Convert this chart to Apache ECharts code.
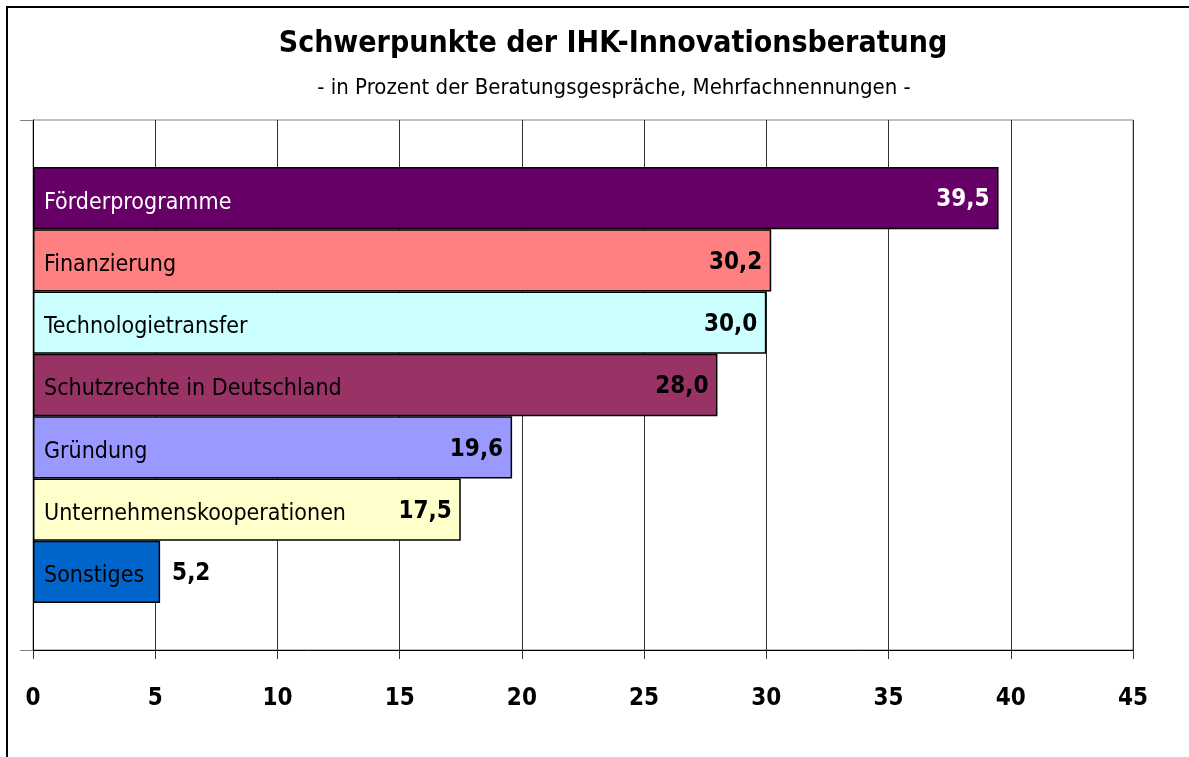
<!DOCTYPE html>
<html><head><meta charset="utf-8">
<script src="https://cdn.jsdelivr.net/npm/echarts@6/dist/echarts.min.js"></script>
<style>html,body{margin:0;padding:0;background:#fff}#c{width:1189px;height:757px}</style>
</head><body><div id="c"></div>
<script>
const categories = ['Förderprogramme','Finanzierung','Technologietransfer','Schutzrechte in Deutschland','Gründung','Unternehmenskooperationen','Sonstiges'];
const values = [39.5, 30.2, 30.0, 28.0, 19.6, 17.5, 5.2];
const xTicks = [0, 5, 10, 15, 20, 25, 30, 35, 40, 45];
const titleText = 'Schwerpunkte der IHK-Innovationsberatung';
const subtitleText = '- in Prozent der Beratungsgespräche, Mehrfachnennungen -';

const barColors = ['#660066','#FF8080','#CCFFFF','#993366','#9999FF','#FFFFCC','#0066CC'];
const textColors = ['#ffffff','#000000','#000000','#000000','#000000','#000000','#000000'];
const FONT = 'DejaVu Sans Condensed';

const chart = echarts.init(document.getElementById('c'), null, {renderer: 'canvas'});
const xMin = xTicks[0], xMax = xTicks[xTicks.length - 1], xStep = xTicks[1] - xTicks[0];

const nameRich = {};
textColors.forEach((c, i) => {
  nameRich['n' + i] = {color: c, fontFamily: FONT, fontSize: 23, padding: [9, 0, 0, 0]};
});

chart.setOption({
  animation: false,
  backgroundColor: '#ffffff',
  textStyle: {fontFamily: FONT},
  title: [
    {text: titleText, left: 608, top: 24, textAlign: 'center',
     textStyle: {fontFamily: FONT, fontSize: 30, fontWeight: 'bold', color: '#000'}},
    {text: subtitleText, left: 609, top: 72, textAlign: 'center',
     textStyle: {fontFamily: FONT, fontSize: 22, fontWeight: 'normal', color: '#000'}}
  ],
  graphic: [{
    type: 'rect', silent: true, z: 100,
    shape: {x: 7, y: 7, width: 1400, height: 1000},
    style: {fill: 'none', stroke: '#000', lineWidth: 2}
  }],
  grid: [
    {left: 33, right: 56, top: 120, bottom: 107, show: true, borderColor: '#808080', borderWidth: 1, backgroundColor: 'transparent'},
    {left: 33, right: 56, top: 167, bottom: 154}
  ],
  xAxis: [
    {type: 'value', gridIndex: 0, min: xMin, max: xMax, interval: xStep,
     axisLine: {show: true, lineStyle: {color: '#000', width: 1}},
     axisTick: {show: true, length: 9, lineStyle: {color: '#333'}},
     axisLabel: {margin: 37, fontFamily: FONT, fontSize: 24, fontWeight: 'bold', color: '#000',
                 formatter: v => String(v)},
     splitLine: {show: true, lineStyle: {color: '#333', width: 1}}},
    {type: 'value', gridIndex: 1, min: xMin, max: xMax, interval: xStep, show: false}
  ],
  yAxis: [
    {type: 'category', gridIndex: 0, data: [''],
     axisLine: {show: true, lineStyle: {color: '#000', width: 1}},
     axisTick: {show: true, length: 13, lineStyle: {color: '#808080'}},
     axisLabel: {show: false}, splitLine: {show: false}},
    {type: 'category', gridIndex: 1, data: categories, inverse: true, z: 10,
     axisLine: {show: false}, axisTick: {show: false}, splitLine: {show: false},
     axisLabel: {inside: true, margin: 11, fontFamily: FONT, fontSize: 23,
                 formatter: (v, i) => '{n' + i + '|' + v + '}', rich: nameRich}}
  ],
  series: [{
    type: 'bar', xAxisIndex: 1, yAxisIndex: 1, barCategoryGap: 0,
    data: values.map((v, i) => ({
      value: v,
      itemStyle: {color: barColors[i], borderColor: '#000', borderWidth: 1.5},
      label: {color: textColors[i], position: v < 10 ? 'right' : 'insideRight', distance: v < 10 ? 12 : 9}
    })),
    label: {show: true, fontFamily: FONT, fontSize: 24, fontWeight: 'bold', offset: [0, 2],
            formatter: p => p.value.toFixed(1).replace('.', ',')}
  }]
});
</script></body></html>
